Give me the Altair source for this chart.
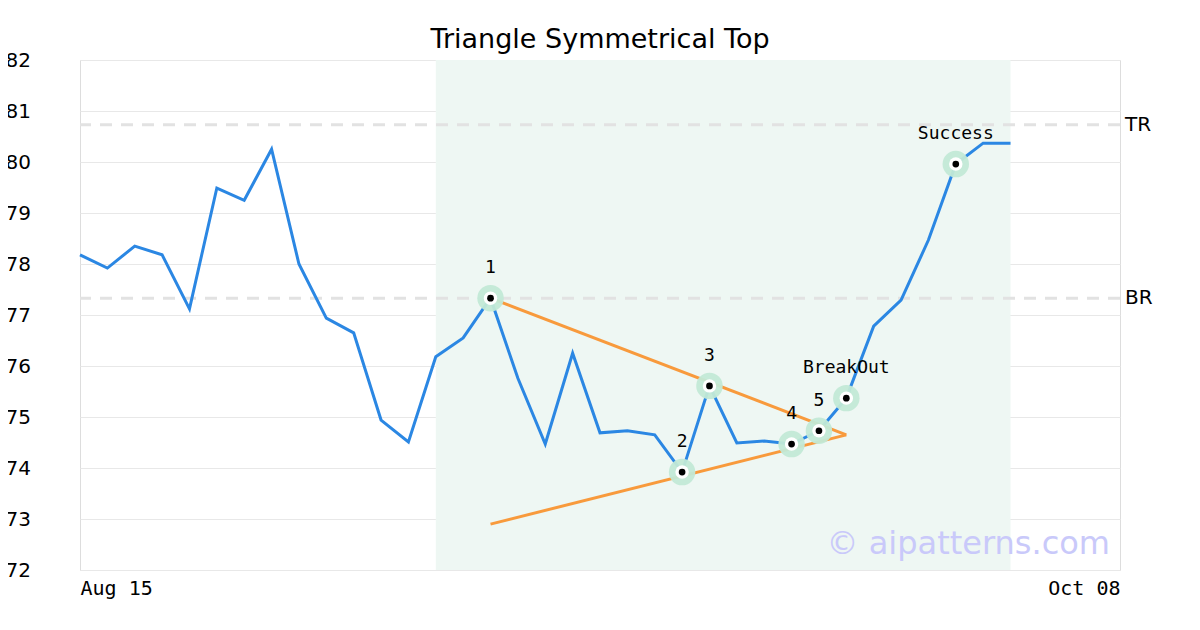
import altair as alt
import pandas as pd

# price series (index = trading day)
prices = [78.18, 77.92, 78.35, 78.18, 77.12, 79.49, 79.25, 80.25, 78.00, 76.94,
          76.65, 74.94, 74.51, 76.18, 76.55, 77.33, 75.76, 74.47, 76.25, 74.69,
          74.73, 74.65, 73.92, 75.61, 74.49, 74.53, 74.47, 74.73, 75.37, 76.78,
          77.29, 78.47, 79.96, 80.37, 80.37]
x_domain = [0, 38]
x_tick_values = [0, 38]
x_tick_labels = ["Aug 15", "Oct 08"]

# pattern points
pt_idx = [15, 22, 23, 26, 27, 28, 32]
pt_labels = ["1", "2", "3", "4", "5", "BreakOut", "Success"]

# triangle trend lines
upper_idx = [15, 28]
upper_val = [77.33, 74.65]
lower_idx = [15, 28]
lower_val = [72.90, 74.65]

# resistance levels
level_names = ["TR", "BR"]
level_vals = [80.73, 77.33]

# pattern window
shade_start, shade_end = 13, 34

title = "Triangle Symmetrical Top"
watermark = "© aipatterns.com"

price_df = pd.DataFrame({"i": list(range(len(prices))), "v": prices})
pts_df = pd.DataFrame({"i": pt_idx, "v": [prices[k] for k in pt_idx], "lab": pt_labels})
tri_df = pd.DataFrame({
    "i": upper_idx + lower_idx,
    "v": upper_val + lower_val,
    "seg": ["u", "u", "l", "l"],
})
lvl_df = pd.DataFrame({"name": level_names, "v": level_vals, "xr": [x_domain[1]] * 2})
shade_df = pd.DataFrame({"a": [shade_start], "b": [shade_end], "y0": [72], "y1": [82]})

xs = alt.Scale(domain=x_domain, nice=False, zero=False)
ys = alt.Scale(domain=[72, 82], nice=False, zero=False)

label_expr = "datum.value == 0 ? '%s' : '%s'" % (x_tick_labels[0], x_tick_labels[1])
x_axis = alt.Axis(values=x_tick_values, labelExpr=label_expr,
                  labelFlush=True, grid=False, domain=False, ticks=False,
                  labelFont="DejaVu Sans Mono", labelFontSize=20, labelColor="#000",
                  labelPadding=8, title=None)
y_axis = alt.Axis(values=list(range(72, 83)), grid=True, gridColor="#e8e8e8",
                  gridWidth=1, domain=False, ticks=False, labelAlign="left",
                  labelPadding=75, labelFont="DejaVu Sans", labelFontSize=20,
                  labelColor="#000", title=None)

shade = alt.Chart(shade_df).mark_rect(color="#eef7f3").encode(
    x=alt.X("a:Q", scale=xs, axis=x_axis), x2="b:Q",
    y=alt.Y("y0:Q", scale=ys, axis=y_axis), y2="y1:Q")

levels = alt.Chart(lvl_df).mark_rule(color="#e2e2e2", strokeWidth=3, strokeDash=[12, 9]).encode(
    y=alt.Y("v:Q", scale=ys))

level_text = alt.Chart(lvl_df).mark_text(align="left", baseline="middle", dx=5,
                                         font="DejaVu Sans", fontSize=20, color="#000").encode(
    x=alt.X("xr:Q", scale=xs), y=alt.Y("v:Q", scale=ys), text="name:N")

line = alt.Chart(price_df).mark_line(color="#2b87e3", strokeWidth=3).encode(
    x=alt.X("i:Q", scale=xs), y=alt.Y("v:Q", scale=ys))

tri = alt.Chart(tri_df).mark_line(color="#f89a3c", strokeWidth=3).encode(
    x=alt.X("i:Q", scale=xs), y=alt.Y("v:Q", scale=ys), detail="seg:N")

halo = alt.Chart(pts_df).mark_circle(color="#c2e9d6", opacity=0.95, size=700).encode(
    x=alt.X("i:Q", scale=xs), y=alt.Y("v:Q", scale=ys))
white = alt.Chart(pts_df).mark_circle(color="#ffffff", opacity=1, size=180).encode(
    x=alt.X("i:Q", scale=xs), y=alt.Y("v:Q", scale=ys))
dot = alt.Chart(pts_df).mark_circle(color="#000000", opacity=1, size=45).encode(
    x=alt.X("i:Q", scale=xs), y=alt.Y("v:Q", scale=ys))

labels = alt.Chart(pts_df).mark_text(align="center", baseline="middle", dy=-30,
                                     font="DejaVu Sans Mono", fontSize=18, color="#000").encode(
    x=alt.X("i:Q", scale=xs), y=alt.Y("v:Q", scale=ys), text="lab:N")

wm = alt.Chart(pd.DataFrame({"t": [watermark]})).mark_text(
    align="right", baseline="alphabetic", font="DejaVu Sans", fontSize=32,
    color="#c9c9fa").encode(x=alt.value(1030), y=alt.value(494), text="t:N")

chart = alt.layer(shade, levels, level_text, line, tri, halo, white, dot, labels, wm).properties(
    width=1040, height=510,
    title=alt.TitleParams(title, font="DejaVu Sans", fontSize=27, fontWeight="normal",
                          color="#000", offset=-4),
    autosize=alt.AutoSizeParams(type="none"),
    padding={"left": 72, "top": 52, "right": 60, "bottom": 44},
).configure_view(stroke="#dcdcdc", strokeWidth=2.5).configure(background="#ffffff")

chart.save("out.html", embed_options={"renderer": "svg", "actions": False})
